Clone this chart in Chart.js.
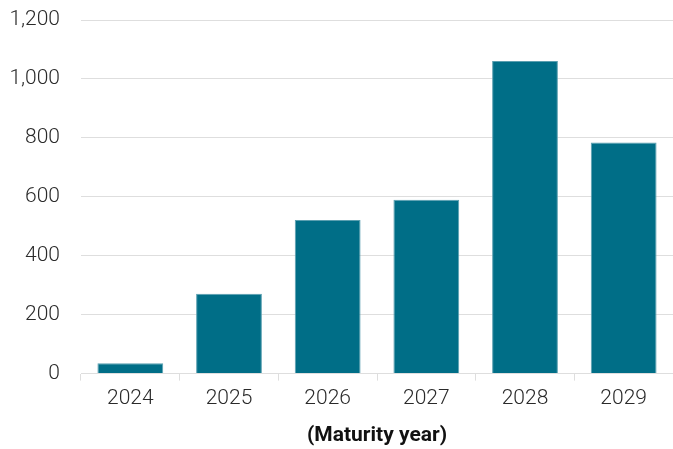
<!DOCTYPE html>
<html>
<head>
<meta charset="utf-8">
<script src="https://cdn.jsdelivr.net/npm/chart.js@4.4.1/dist/chart.umd.min.js"></script>
<style>
  html, body { margin: 0; padding: 0; background: #fff; }
  #wrap { width: 673px; height: 449px; position: relative; }
</style>
</head>
<body>
<div id="wrap"><canvas id="chart"></canvas></div>
<script>
// maturity profile
const years = ['2024', '2025', '2026', '2027', '2028', '2029'];
const amounts = [35, 271, 521, 590, 1061, 784];
const yTicks = [0, 200, 400, 600, 800, 1000, 1200];

const barColor = '#006e87';
const gridColor = '#dedede';

new Chart(document.getElementById('chart'), {
  type: 'bar',
  data: {
    labels: years,
    datasets: [{
      data: amounts,
      backgroundColor: barColor,
      borderColor: '#5a9fb0',
      borderWidth: 1,
      barPercentage: 0.667,
      categoryPercentage: 1
    }]
  },
  options: {
    responsive: true,
    maintainAspectRatio: false,
    animation: false,
    layout: { padding: { top: 20, right: 0, left: 0, bottom: 1 } },
    plugins: {
      legend: { display: false },
      tooltip: { enabled: false }
    },
    scales: {
      x: {
        grid: {
          drawOnChartArea: false,
          drawTicks: true,
          tickLength: 7,
          color: gridColor
        },
        border: { display: true, color: gridColor },
        ticks: {
          color: '#2a2a2a',
          padding: 6,
          font: { family: 'Roboto', size: 21, weight: 300 }
        },
        title: {
          display: true,
          text: '(Maturity year)',
          color: '#111',
          padding: { top: 5, bottom: 0 },
          font: { family: 'Roboto', size: 21, weight: 'bold' }
        }
      },
      y: {
        min: 0,
        max: 1200,
        afterBuildTicks: axis => { axis.ticks = yTicks.map(v => ({ value: v })); },
        afterFit: axis => {
          axis.width = 81;
          axis.paddingTop = 0;
          axis.paddingBottom = 0;
        },
        grid: { color: gridColor, drawTicks: false },
        border: { display: false },
        ticks: {
          color: '#2a2a2a',
          padding: 21,
          font: { family: 'Roboto', size: 21, weight: 300 },
          callback: v => v.toLocaleString('en-US')
        }
      }
    }
  }
});
</script>
</body>
</html>
